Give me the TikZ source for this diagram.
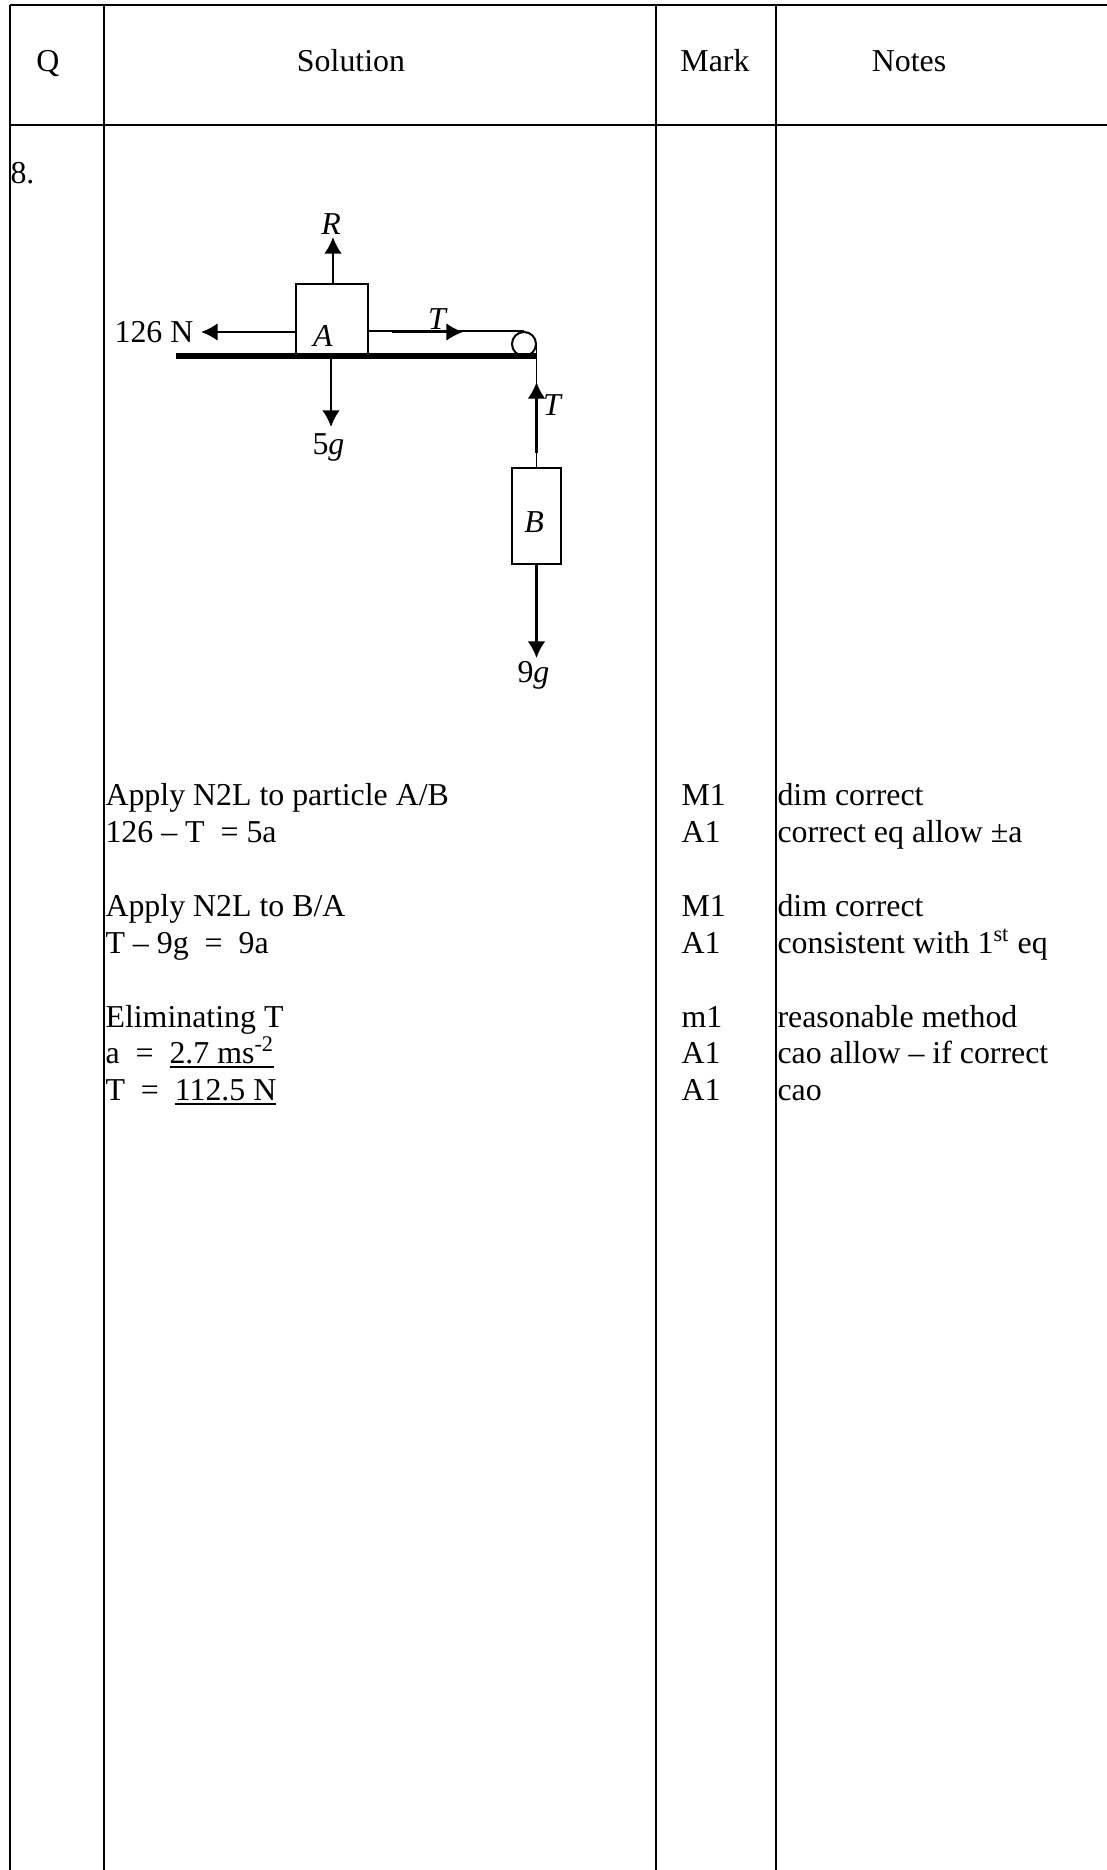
\documentclass[tikz,border=0pt]{standalone}
\usepackage{fontspec}
\setmainfont{Liberation Serif}
\usetikzlibrary{arrows.meta,positioning,calc}
\newcommand{\ulthick}[1]{\setbox0\hbox{#1}\leavevmode\rlap{\rule[-1.8pt]{\wd0}{0.7pt}}\box0}
\tikzset{
    txt/.style={anchor=base west, inner sep=0pt, font=\fontsize{11.95}{14}\selectfont},
    head/.style={anchor=base, inner sep=0pt, font=\fontsize{11.95}{14}\selectfont},
    lbl/.style={inner sep=0pt, font=\fontsize{11.95}{14}\selectfont},
    mass/.style={rectangle, draw, line width=0.75pt, inner sep=0pt},
    wheel/.style={circle, draw, line width=0.75pt, inner sep=0pt, minimum size=9pt},
    rule/.style={line width=0.75pt},
    force/.style={line width=0.9pt, -{Latex[length=6.2pt,width=6.6pt]}},
    rope/.style={line width=0.55pt}
}
\begin{document}
\begin{tikzpicture}[x=0.375pt,y=-0.375pt]
    \useasboundingbox (0,0) rectangle (1107,1870);
    % Table rules
    \foreach \cx in {9.5,104,656,776} {
        \draw[rule] (\cx,5) -- (\cx,1870);
    }
    \foreach \cy in {5,125} {
        \draw[rule] (9.5,\cy) -- (1107,\cy);
    }
    % Header
    \node[head] (hq) at (48,71) {Q};
    \node[head] (hsol) at (351,71) {Solution};
    \node[head] (hmark) at (715,71) {Mark};
    \node[head] (hnotes) at (909,71) {Notes};
    \node[txt] (qnum) at (10,183) {8.};
    % Bodies
    \node[mass, minimum width=27pt, minimum height=26.6pt] (boxA) at (332,319.5) {};
    \node[mass, minimum width=18.4pt, minimum height=36pt] (boxB) at (536.5,516) {};
    \node[wheel] (pulley) at (524,344) {};
    \coordinate (tableL) at (176,356);
    \coordinate (tableR) at (537,356);
    \draw[line width=2.2pt] (tableL) -- (tableR);
    % Rope
    \coordinate (ropeL) at (boxA.east |- pulley.north);
    \coordinate (ropeD) at (boxB.north |- pulley.east);
    \draw[rope] (ropeL) -- (pulley.north);
    \draw[rope] (ropeD) -- (boxB.north);
    % Forces
    \coordinate (tipR) at (333,237);
    \coordinate (tipL) at (201,332);
    \coordinate (tailT) at (392,332);
    \coordinate (tipT) at (463,332);
    \coordinate (tailU) at (536.5,453);
    \coordinate (tipU) at (536.5,382);
    \coordinate (tailW) at (331,356);
    \coordinate (tipW) at (331,427);
    \coordinate (tipN) at (536.5,658);
    \draw[force] (boxA.north -| tipR) -- (tipR);
    \draw[force] (boxA.west |- tipL) -- (tipL);
    \draw[force] (tailT) -- (tipT);
    \draw[force] (tailU) -- (tipU);
    \draw[force] (tailW) -- (tipW);
    \draw[force] (boxB.south) -- (tipN);
    % Force labels
    \node[lbl] (labR) at (331,224) {\textit{R}};
    \node[lbl] (labN) at (154,332) {126 N};
    \node[lbl] (labA) at (323,336) {\textit{A}};
    \node[lbl] (labT) at (438,319) {\textit{T}};
    \node[lbl] (labS) at (553,405) {\textit{T}};
    \node[lbl] (labB) at (534,522) {\textit{B}};
    \node[txt] (labW) at (312,454) {5\textit{g}};
    \node[txt] (labG) at (517,682) {9\textit{g}};
    % Working
    \node[txt] (sol1) at (105,805) {Apply N2L to particle A/B};
    \node[txt] (sol2) at (105,842) {126 -- T \ = 5a};
    \node[txt] (sol3) at (105,916) {Apply N2L to B/A};
    \node[txt] (sol4) at (105,953) {T -- 9g \ = \ 9a};
    \node[txt] (sol5) at (105,1027) {Eliminating T};
    \node[txt] (sol6) at (105,1063) {a \ = \ \ulthick{2.7 ms\textsuperscript{-2}}};
    \node[txt] (sol7) at (105,1100) {T \ = \ \ulthick{112.5 N}};
    % Marks
    \node[txt] (mk1) at (681,805) {M1};
    \node[txt] (mk2) at (681,842) {A1};
    \node[txt] (mk3) at (681,916) {M1};
    \node[txt] (mk4) at (681,953) {A1};
    \node[txt] (mk5) at (681,1027) {m1};
    \node[txt] (mk6) at (681,1063) {A1};
    \node[txt] (mk7) at (681,1100) {A1};
    % Notes
    \node[txt] (nt1) at (777,805) {dim correct};
    \node[txt] (nt2) at (777,842) {correct eq allow ±a};
    \node[txt] (nt3) at (777,916) {dim correct};
    \node[txt] (nt4) at (777,953) {consistent with 1\textsuperscript{st} eq};
    \node[txt] (nt5) at (777,1027) {reasonable method};
    \node[txt] (nt6) at (777,1063) {cao allow -- if correct};
    \node[txt] (nt7) at (777,1100) {cao};
\end{tikzpicture}
\end{document}
